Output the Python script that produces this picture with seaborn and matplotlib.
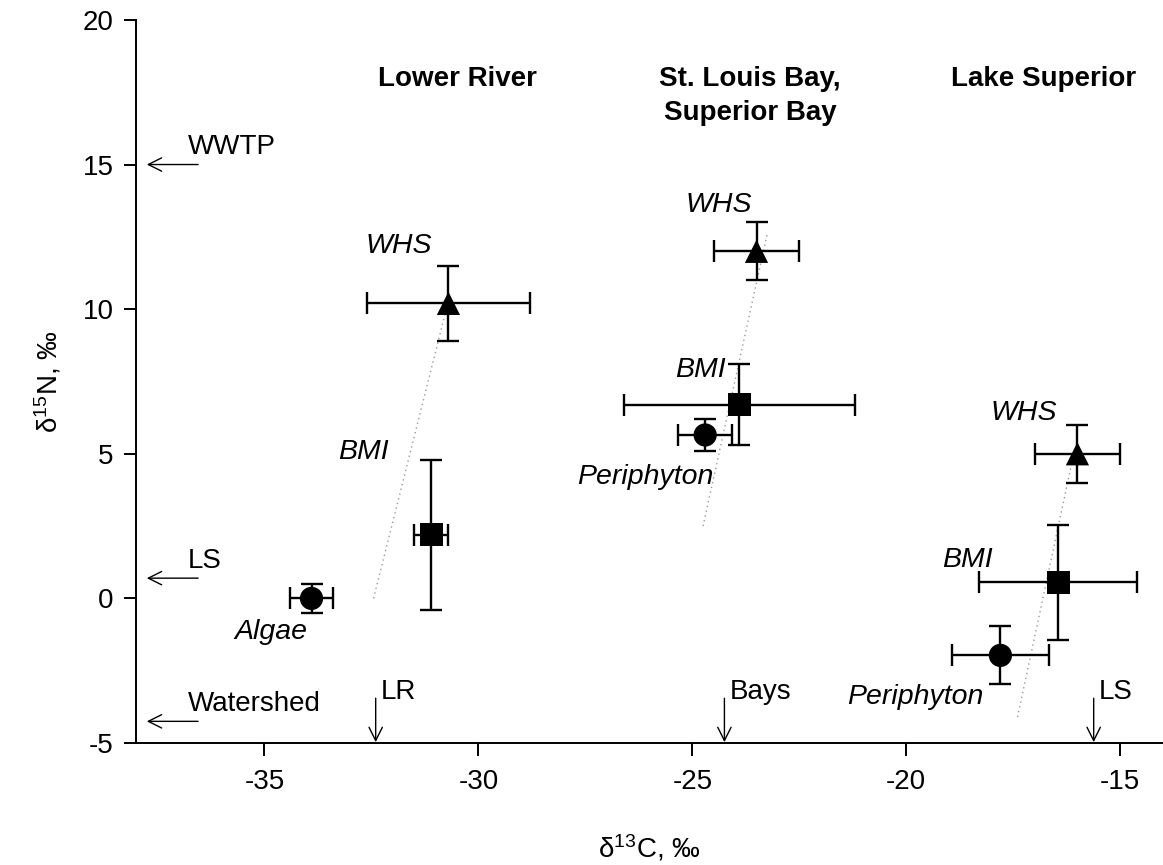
import matplotlib
matplotlib.use("Agg")
import matplotlib.pyplot as plt
import seaborn as sns
import pandas as pd

sns.set_theme(style="white")
plt.rcParams['font.family'] = ['Liberation Sans', 'DejaVu Sans']
plt.rcParams['axes.unicode_minus'] = False
plt.rcParams['text.color'] = 'black'
plt.rcParams['axes.labelcolor'] = 'black'
plt.rcParams['xtick.color'] = 'black'
plt.rcParams['ytick.color'] = 'black'
plt.rcParams['mathtext.fontset'] = 'custom'
plt.rcParams['mathtext.rm'] = 'Liberation Sans'
plt.rcParams['mathtext.it'] = 'Liberation Sans:italic'

# Data
regions = ["Lower River"] * 3 + ["Bays"] * 3 + ["Lake Superior"] * 3
groups = ["Algae", "BMI", "WHS", "Periphyton", "BMI", "WHS", "Periphyton", "BMI", "WHS"]
d13C = [-33.9, -31.1, -30.7, -24.7, -23.9, -23.5, -17.8, -16.45, -16.0]
d13C_err = [0.5, 0.4, 1.9, 0.63, 2.7, 1.0, 1.14, 1.84, 1.0]
d15N = [0.0, 2.2, 10.2, 5.65, 6.7, 12.0, -1.97, 0.55, 5.0]
d15N_err = [0.5, 2.6, 1.3, 0.55, 1.4, 1.0, 1.0, 2.0, 1.0]
kind = ["primary", "BMI", "WHS", "primary", "BMI", "WHS", "primary", "BMI", "WHS"]

# regression (dotted) line endpoints per region
line_region = ["LR", "LR", "Bays", "Bays", "LS", "LS"]
line_x = [-32.45, -30.75, -24.75, -23.25, -17.4, -16.1]
line_y = [0.0, 10.0, 2.5, 12.6, -4.1, 4.9]

# label text positions
label_text = ["Algae", "BMI", "WHS", "Periphyton", "BMI", "WHS", "Periphyton", "BMI", "WHS"]
label_x = [-34.85, -32.68, -31.85, -26.09, -24.8, -24.39, -19.79, -18.56, -17.25]
label_y = [-1.15, 5.06, 12.2, 4.2, 7.9, 13.6, -3.4, 1.33, 6.41]

headings = ["Lower River", "St. Louis Bay,\nSuperior Bay", "Lake Superior"]
heading_x = [-30.5, -23.65, -16.8]

# source arrows on the y axis
src_names = ["WWTP", "LS", "Watershed"]
src_y = [15.0, 0.7, -4.25]
# baseline arrows on x axis
base_names = ["LR", "Bays", "LS"]
base_x = [-32.4, -24.25, -15.62]

df = pd.DataFrame({"region": regions, "group": groups, "d13C": d13C, "d15N": d15N,
                   "xerr": d13C_err, "yerr": d15N_err, "kind": kind})
lines = pd.DataFrame({"region": line_region, "x": line_x, "y": line_y})

fig = plt.figure(figsize=(11.63, 8.65), dpi=100)
ax = fig.add_axes([0.117, 0.141, 0.883, 0.836])

# dotted regression lines
sns.lineplot(data=lines, x="x", y="y", units="region", estimator=None, sort=False,
             color="#999999", linestyle=(0, (1, 2.5)), linewidth=1.0, ax=ax, legend=False)

# error bars
ax.errorbar(df["d13C"], df["d15N"], xerr=df["xerr"], yerr=df["yerr"], fmt="none",
            ecolor="black", elinewidth=1.7, capsize=8, capthick=1.7, zorder=3)

# markers
sns.scatterplot(data=df, x="d13C", y="d15N", style="kind",
                markers={"primary": "o", "BMI": "s", "WHS": "^"},
                s=280, color="black", edgecolor="black", linewidth=0,
                ax=ax, legend=False, zorder=4)

FS = 20.5
for t, x, y in zip(label_text, label_x, label_y):
    ax.text(x, y, t, fontsize=FS, style="italic", ha="center", va="center")

for t, x in zip(headings, heading_x):
    ax.text(x, 18.4, t, fontsize=20, fontweight="bold", ha="center", va="top",
            linespacing=1.4)

for t, y in zip(src_names, src_y):
    ax.annotate("", xy=(-37.75, y), xytext=(-36.55, y),
                arrowprops=dict(arrowstyle="->", lw=1.0, color="black",
                                mutation_scale=24, shrinkA=0, shrinkB=0))
    ax.text(-36.8, y + 0.6, t, fontsize=20, ha="left", va="center")

for t, x in zip(base_names, base_x):
    ax.annotate("", xy=(x, -4.97), xytext=(x, -3.45),
                arrowprops=dict(arrowstyle="->", lw=1.0, color="black",
                                mutation_scale=24, shrinkA=0, shrinkB=0))
    ax.text(x + 0.12, -3.25, t, fontsize=20, ha="left", va="center")

ax.set_xlim(-38, -14)
ax.set_ylim(-5, 20)
ax.set_xticks([-35, -30, -25, -20, -15])
ax.set_yticks([-5, 0, 5, 10, 15, 20])
ax.tick_params(axis="both", direction="out", length=9, width=1.4, labelsize=20,
               color="black", bottom=True, left=True)
ax.tick_params(axis="x", pad=10)
ax.tick_params(axis="y", pad=7)
for s in ["top", "right"]:
    ax.spines[s].set_visible(False)
for s in ["left", "bottom"]:
    ax.spines[s].set_color("black")
    ax.spines[s].set_linewidth(1.4)

ax.set_xlabel(r"δ$^{13}$C, ‰", fontsize=20, labelpad=27)
ax.set_ylabel(r"δ$^{15}$N, ‰", fontsize=20, labelpad=14)

fig.savefig("out.png", dpi=100)
